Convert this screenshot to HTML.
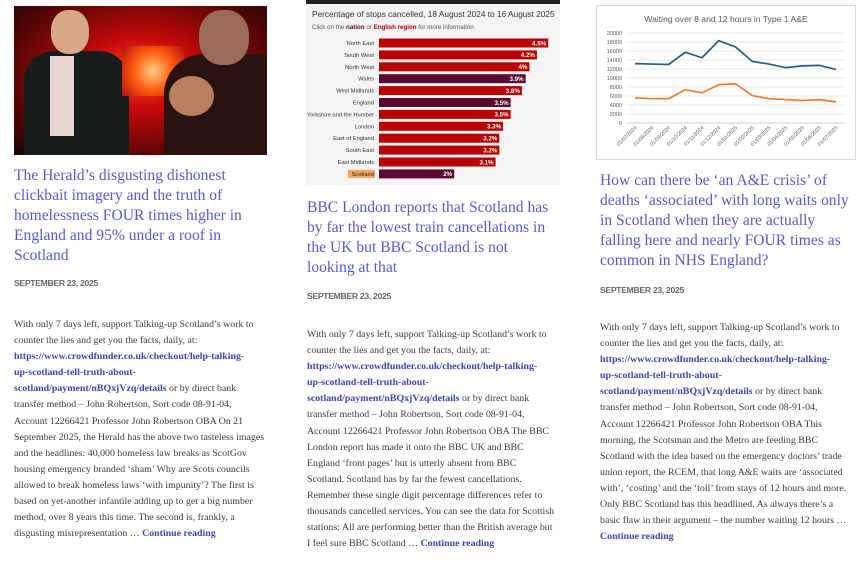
<!DOCTYPE html>
<html><head><meta charset="utf-8">
<style>
body{margin:0;width:864px;height:574px;background:#fff;position:relative;overflow:hidden;font-family:"Liberation Serif",serif;}
.abs{position:absolute}
.title{position:absolute;font-size:15.6px;line-height:20px;color:#5a5acf;white-space:nowrap}
.date{position:absolute;font-family:"Liberation Sans",sans-serif;font-weight:bold;font-size:8.6px;color:#666;letter-spacing:-0.3px}
.body{position:absolute;font-size:9.9px;line-height:16.1px;color:#3a3a3a;white-space:nowrap}
.body a{color:#3b45b5;font-weight:bold;text-decoration:none}
</style></head><body>

<div class="abs" style="left:14px;top:6px;width:253px;height:149px;overflow:hidden;background:radial-gradient(ellipse at 50% 45%,#ff4a20 0%,#c80a0a 30%,#6a0606 65%,#1a0606 100%)">
 <div class="abs" style="left:10px;top:45px;width:105px;height:104px;background:#161d1c;border-radius:30px 30px 0 0"></div>
 <div class="abs" style="left:36px;top:50px;width:24px;height:80px;background:#e8d6d2"></div>
 <div class="abs" style="left:37px;top:4px;width:38px;height:44px;background:#d6a88a;border-radius:45%"></div>
 <div class="abs" style="left:108px;top:40px;width:62px;height:50px;background:radial-gradient(circle,#ffd080,#ff5a10 50%,#b01010)"></div>
 <div class="abs" style="left:150px;top:48px;width:103px;height:101px;background:#2a1210;border-radius:40px 0 0 0"></div>
 <div class="abs" style="left:185px;top:4px;width:50px;height:55px;background:#9a6a58;border-radius:45%"></div>
 <div class="abs" style="left:155px;top:70px;width:45px;height:40px;background:#b78060;border-radius:50%"></div>
</div>

<div class="title" style="left:14px;top:166px">The Herald’s disgusting dishonest<br>clickbait imagery and the truth of<br>homelessness FOUR times higher in<br>England and 95% under a roof in<br>Scotland</div>
<div class="date" style="left:14px;top:278px">SEPTEMBER 23, 2025</div>
<div class="body" style="left:14px;top:317px">With only 7 days left, support Talking-up Scotland’s work to<br>counter the lies and get you the facts, daily, at:<br><a>https://www.crowdfunder.co.uk/checkout/help-talking-<br>up-scotland-tell-truth-about-<br>scotland/payment/nBQxjVzq/details</a> or by direct bank<br>transfer method – John Robertson, Sort code 08-91-04,<br>Account 12266421 Professor John Robertson OBA On 21<br>September 2025, the Herald has the above two tasteless images<br>and the headlines: 40,000 homeless law breaks as ScotGov<br>housing emergency branded ‘sham’ Why are Scots councils<br>allowed to break homeless laws ‘with impunity’? The first is<br>based on yet-another infantile adding up to get a big number<br>method, over 8 years this time. The second is, frankly, a<br>disgusting misrepresentation … <a>Continue reading</a></div>

<svg class="abs" style="left:306px;top:0" width="254" height="185" id="bar"></svg>

<div class="title" style="left:307px;top:198px">BBC London reports that Scotland has<br>by far the lowest train cancellations in<br>the UK but BBC Scotland is not<br>looking at that</div>
<div class="date" style="left:307px;top:291px">SEPTEMBER 23, 2025</div>
<div class="body" style="left:307px;top:327px">With only 7 days left, support Talking-up Scotland’s work to<br>counter the lies and get you the facts, daily, at:<br><a>https://www.crowdfunder.co.uk/checkout/help-talking-<br>up-scotland-tell-truth-about-<br>scotland/payment/nBQxjVzq/details</a> or by direct bank<br>transfer method – John Robertson, Sort code 08-91-04,<br>Account 12266421 Professor John Robertson OBA The BBC<br>London report has made it onto the BBC UK and BBC<br>England ‘front pages’ but is utterly absent from BBC<br>Scotland. Scotland has by far the fewest cancellations.<br>Remember these single digit percentage differences refer to<br>thousands cancelled services. You can see the data for Scottish<br>stations: All are performing better than the British average but<br>I feel sure BBC Scotland … <a>Continue reading</a></div>

<svg class="abs" style="left:596px;top:5px" width="260" height="155" id="line"></svg>

<div class="title" style="left:600px;top:171px">How can there be ‘an A&amp;E crisis’ of<br>deaths ‘associated’ with long waits only<br>in Scotland when they are actually<br>falling here and nearly FOUR times as<br>common in NHS England?</div>
<div class="date" style="left:600px;top:285px">SEPTEMBER 23, 2025</div>
<div class="body" style="left:600px;top:320px">With only 7 days left, support Talking-up Scotland’s work to<br>counter the lies and get you the facts, daily, at:<br><a>https://www.crowdfunder.co.uk/checkout/help-talking-<br>up-scotland-tell-truth-about-<br>scotland/payment/nBQxjVzq/details</a> or by direct bank<br>transfer method – John Robertson, Sort code 08-91-04,<br>Account 12266421 Professor John Robertson OBA This<br>morning, the Scotsman and the Metro are feeding BBC<br>Scotland with the idea based on the emergency doctors’ trade<br>union report, the RCEM, that long A&amp;E waits are ‘associated<br>with’, ‘costing’ and the ‘toll’ from stays of 12 hours and more.<br>Only BBC Scotland has this headlined. As always there’s a<br>basic flaw in their argument – the number waiting 12 hours …<br><a>Continue reading</a></div>

<script>
const regions=["North East","South West","North West","Wales","West Midlands","England","Yorkshire and the Humber","London","East of England","South East","East Midlands","Scotland"];
const pctValues=[4.5,4.2,4,3.9,3.8,3.5,3.5,3.3,3.2,3.2,3.1,2];
const pctLabels=["4.5%","4.2%","4%","3.9%","3.8%","3.5%","3.5%","3.3%","3.2%","3.2%","3.1%","2%"];
const nations=["Wales","England","Scotland"];

const dates=["01/07/2024","01/08/2024","01/09/2024","01/10/2024","01/11/2024","01/12/2024","01/01/2025","01/02/2025","01/03/2025","01/04/2025","01/05/2025","01/06/2025","01/07/2025"];
const over8=[13200,13100,13000,15700,14500,18300,16900,13700,13100,12300,12700,12800,11900];
const over12=[5600,5400,5400,7400,6700,8500,8700,6100,5400,5200,5000,5200,4700];
const yTicks=[0,2000,4000,6000,8000,10000,12000,14000,16000,18000,20000];

const NS="http://www.w3.org/2000/svg";
function mk(p,t,a,txt){const e=document.createElementNS(NS,t);for(const k in a)e.setAttribute(k,a[k]);if(txt!==undefined)e.textContent=txt;p.appendChild(e);return e;}

// bar chart
const bar=document.getElementById('bar');
mk(bar,'rect',{x:0,y:0,width:254,height:185,fill:'#f4f4f4'});
mk(bar,'rect',{x:0,y:0,width:254,height:4,fill:'#222'});
let t=mk(bar,'text',{x:6,y:17,'font-size':'8.3','font-family':'Liberation Sans, sans-serif',fill:'#333'},'Percentage of stops cancelled, 18 August 2024 to 16 August 2025');


t=mk(bar,'text',{x:6,y:29,'font-size':'6.2','font-family':'Liberation Sans, sans-serif',fill:'#555'});
t.innerHTML='Click on the <tspan font-weight="bold" fill="#5a0a2e">nation</tspan> or <tspan font-weight="bold" fill="#b00000">English region</tspan> for more information';


const bx0=73, perPct=37.6, by0=43, bstep=11.9;
const bxs=v=>v*perPct;
const bys=i=>by0+i*bstep;
regions.forEach((r,i)=>{
  const isN=nations.includes(r);
  const y=bys(i);
  if(r==='Scotland'){mk(bar,'rect',{x:42,y:y-4,width:27,height:8,fill:'#f5a25d'});}
  const lb=mk(bar,'text',{x:68,y:y+2,'font-size':'5.8','font-family':'Liberation Sans, sans-serif','text-anchor':'end',fill:'#333'},r);
  
  
  const rc=mk(bar,'rect',{x:bx0,y:y-4.5,width:bxs(pctValues[i]),height:9,fill:isN?'#5a0a2e':'#b70000'});
  
  
  const vl=mk(bar,'text',{x:bx0+bxs(pctValues[i])-2,y:y+2.3,'font-size':'6.2','font-weight':'bold','font-family':'Liberation Sans, sans-serif','text-anchor':'end',fill:'#fff'},pctLabels[i]);
  
  
});

// line chart
const ln=document.getElementById('line');
mk(ln,'rect',{x:0.5,y:0.5,width:259,height:154,fill:'#fff',stroke:'#d9d9d9'});
t=mk(ln,'text',{x:130,y:17,'font-size':'8.6','font-family':'Liberation Sans, sans-serif','text-anchor':'middle',fill:'#595959'},'Waiting over 8 and 12 hours in Type 1 A&E');


const lx0=39, lx1=240, ly0=118, ly1=28, ymax=20000;
const xs=i=>lx0+i*(lx1-lx0)/(dates.length-1);
const ys=v=>ly0-(v/ymax)*(ly0-ly1);
yTicks.forEach(v=>{
  mk(ln,'line',{x1:30,x2:249,y1:ys(v),y2:ys(v),stroke:v===0?'#bfbfbf':'#e3e3e3','stroke-width':0.7});
  const tl=mk(ln,'text',{x:26,y:ys(v)+2,'font-size':'5.5','font-family':'Liberation Sans, sans-serif','text-anchor':'end',fill:'#595959'},v);
  
  
});
dates.forEach((d,i)=>{
  const x=xs(i);
  const tl=mk(ln,'text',{x:x+2,y:ly0+5,'font-size':'5.2','font-family':'Liberation Sans, sans-serif','text-anchor':'end',fill:'#595959',transform:`rotate(-45 ${x+2} ${ly0+5})`},d);
  
  
});
function series(vals,col,name){
  const p=mk(ln,'polyline',{points:vals.map((v,i)=>xs(i)+','+ys(v)).join(' '),fill:'none',stroke:col,'stroke-width':1.7,'stroke-linejoin':'round'});
  
  
}
series(over8,'#2b5d88','series-over-8-hours');
series(over12,'#ed7d31','series-over-12-hours');
</script>
</body></html>
